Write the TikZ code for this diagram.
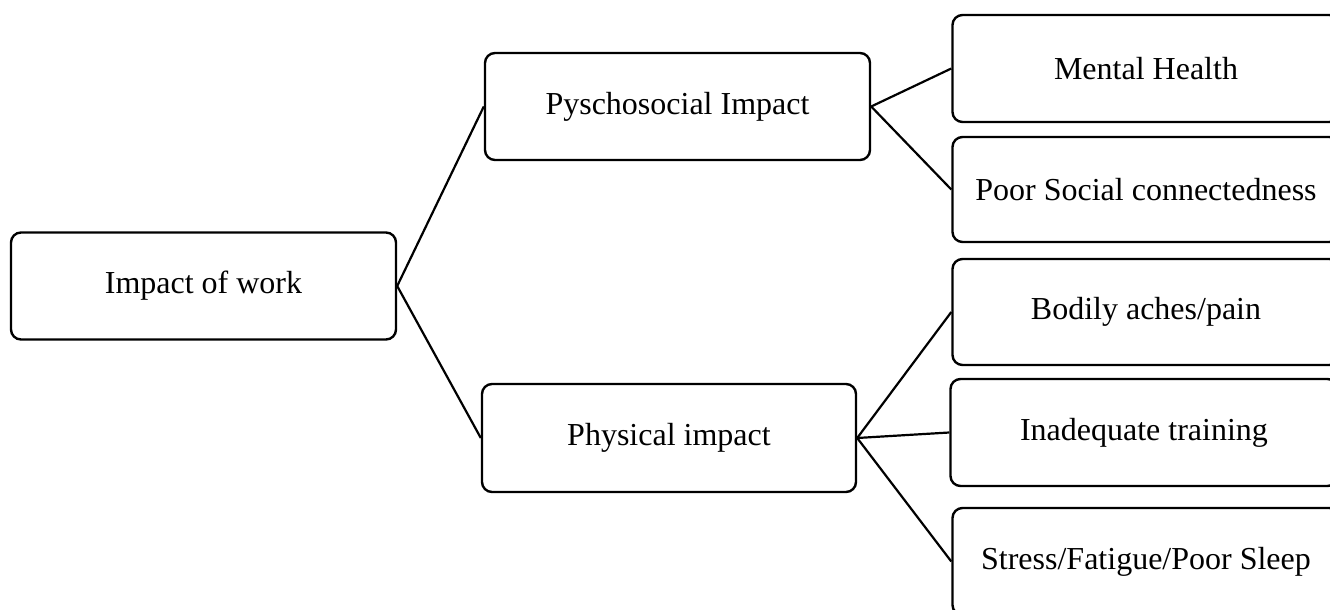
\documentclass[tikz,border=0pt]{standalone}
\usepackage{fontspec}
\setmainfont{Liberation Serif}
\usetikzlibrary{positioning}

\begin{document}
\begin{tikzpicture}[x=0.5pt,y=-0.5pt,
  box/.style={draw,line width=1.2pt,rounded corners=5pt,minimum width=192.5pt,minimum height=53.5pt,align=center,inner sep=0pt,font=\fontsize{16}{19}\selectfont},
  leaf/.style={box,minimum width=193.5pt},
  link/.style={line width=1.1pt}]
  \clip (0,0) rectangle (1330,610);
  \node[box] (root) at (203.5,286) {Impact of work};
  \node[box] (psy) at (677.5,106.5) {Pyschosocial Impact};
  \node[box,minimum width=187pt,minimum height=54pt] (phy) at (669,438) {Physical impact};
  \node[leaf] (mental) at (1146,68.5) {Mental Health};
  \node[leaf,minimum height=52.5pt] (social) at (1146,189.5) {Poor Social connectedness};
  \node[leaf,minimum height=53pt] (aches) at (1146,312) {Bodily aches/pain};
  \node[leaf] (training) at (1144,432.5) {Inadequate training};
  \node[leaf] (stress) at (1146,561.5) {Stress/Fatigue/Poor Sleep};
  \draw[link] (root.east) -- (psy.west);
  \draw[link] (root.east) -- (phy.west);
  \draw[link] (psy.east) -- (mental.west);
  \draw[link] (psy.east) -- (social.west);
  \draw[link] (phy.east) -- (aches.west);
  \draw[link] (phy.east) -- (training.west);
  \draw[link] (phy.east) -- (stress.west);
\end{tikzpicture}
\end{document}
